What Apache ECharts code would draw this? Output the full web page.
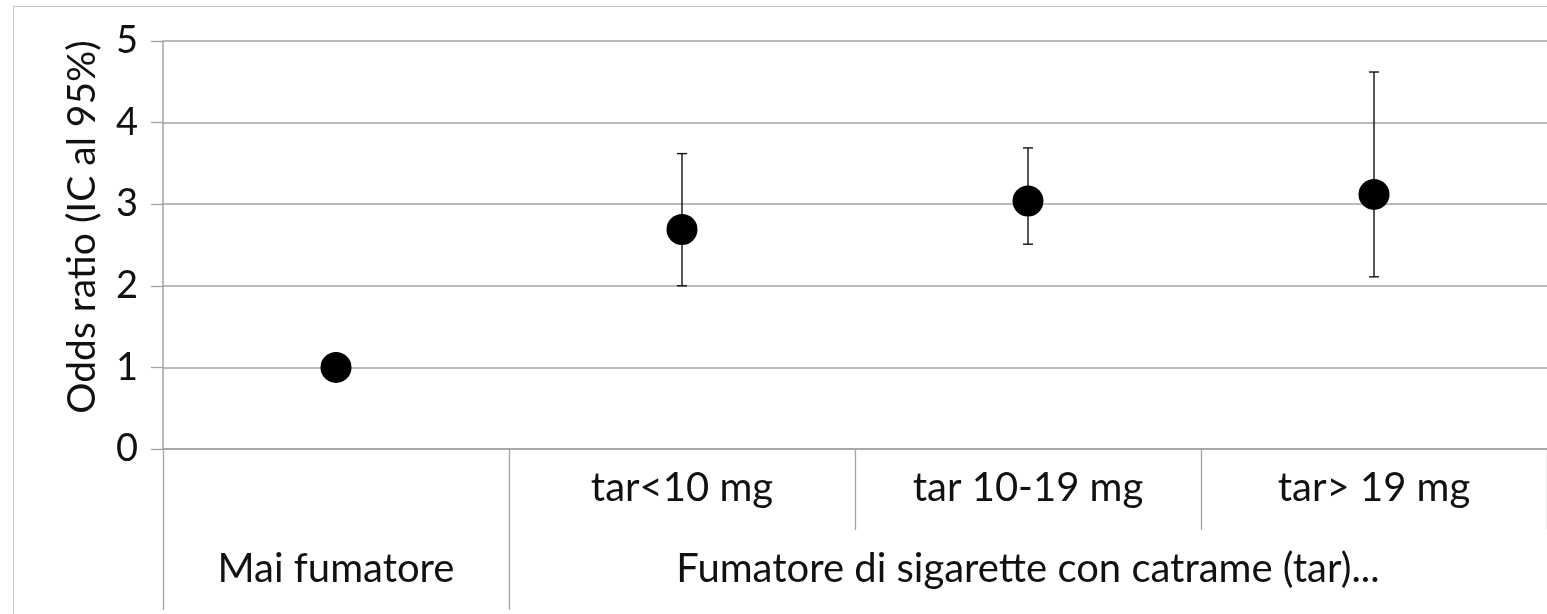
<!DOCTYPE html>
<html>
<head>
<meta charset="utf-8">
<script src="https://cdn.jsdelivr.net/npm/echarts@6/dist/echarts.min.js"></script>
<style>
  html, body { margin: 0; padding: 0; background: #fff; }
  #chart { width: 1547px; height: 614px; }
</style>
</head>
<body>
<div id="chart"></div>
<script>
// ---- data ----
const categories = ['', 'tar<10 mg', 'tar 10-19 mg', 'tar> 19 mg'];
const groupLabels = ['Mai fumatore', 'Fumatore di sigarette con catrame (tar)...'];
const groupCenters = [0.5, 2.5];
const groupBounds = [0, 1];
const oddsRatio = [1.0, 2.69, 3.04, 3.12];
const ciLow = [null, 2.0, 2.51, 2.11];
const ciHigh = [null, 3.62, 3.69, 4.62];
const yTicks = [0, 1, 2, 3, 4, 5];

const FONT = 'Lato';
const GRID = '#a3a3a3';
const TXT = '#111';

const errData = [];
for (let i = 0; i < categories.length; i++) {
  if (ciLow[i] != null) errData.push([i, ciLow[i], ciHigh[i]]);
}

const chart = echarts.init(document.getElementById('chart'), null, { renderer: 'canvas' });
chart.setOption({
  animation: false,
  backgroundColor: '#fff',
  graphic: [{
    type: 'rect',
    shape: { x: 13.5, y: 6.5, width: 1600, height: 700 },
    style: { fill: 'none', stroke: '#c4c4c4', lineWidth: 1 },
    silent: true, z: -10
  }],
  grid: { left: 163, right: 0, top: 41, bottom: 165 },
  xAxis: [{
    type: 'category',
    data: categories,
    boundaryGap: true,
    position: 'bottom',
    axisLine: { show: true, lineStyle: { color: GRID, width: 1.5 } },
    axisTick: { show: true, interval: 0, length: 81, lineStyle: { color: GRID, width: 1.3 } },
    axisLabel: { interval: 0, margin: 19, fontFamily: FONT, fontSize: 40, color: TXT },
    splitLine: { show: false }
  }, {
    type: 'value',
    min: 0, max: 4,
    position: 'bottom',
    offset: 81,
    axisLine: { show: false },
    splitLine: { show: false },
    axisTick: { show: true, customValues: groupBounds, length: 80, lineStyle: { color: GRID, width: 1.3 } },
    axisLabel: {
      show: true,
      customValues: groupCenters,
      margin: 19,
      fontFamily: FONT, fontSize: 40, color: TXT,
      formatter: function (v) {
        const i = groupCenters.indexOf(v);
        return i >= 0 ? groupLabels[i] : '';
      }
    }
  }],
  yAxis: {
    type: 'value',
    min: yTicks[0], max: yTicks[yTicks.length - 1], interval: 1,
    name: 'Odds ratio (IC al 95%)',
    nameLocation: 'middle',
    nameGap: 61,
    nameMoveOverlap: false,
    nameTextStyle: { fontFamily: FONT, fontSize: 39, color: TXT, padding: [0, 0, 0, 36] },
    axisLine: { show: true, lineStyle: { color: GRID, width: 1.5 } },
    axisTick: { show: true, length: 12, lineStyle: { color: GRID, width: 1.3 } },
    axisLabel: { margin: 25, fontFamily: FONT, fontSize: 38, color: TXT },
    splitLine: { show: true, lineStyle: { color: GRID, width: 1.5 } }
  },
  series: [{
    type: 'custom',
    xAxisIndex: 0,
    z: 2,
    data: errData,
    renderItem: function (params, api) {
      const x = api.value(0);
      const lo = api.coord([x, api.value(1)]);
      const hi = api.coord([x, api.value(2)]);
      const cw = 5;
      const st = { stroke: '#111', lineWidth: 1.4 };
      return {
        type: 'group',
        children: [
          { type: 'line', shape: { x1: lo[0], y1: lo[1], x2: hi[0], y2: hi[1] }, style: st },
          { type: 'line', shape: { x1: lo[0] - cw, y1: lo[1], x2: lo[0] + cw, y2: lo[1] }, style: st },
          { type: 'line', shape: { x1: hi[0] - cw, y1: hi[1], x2: hi[0] + cw, y2: hi[1] }, style: st }
        ]
      };
    }
  }, {
    type: 'scatter',
    xAxisIndex: 0,
    z: 3,
    symbol: 'circle',
    symbolSize: 31,
    itemStyle: { color: '#000', opacity: 1 },
    data: oddsRatio
  }]
});
</script>
</body>
</html>
